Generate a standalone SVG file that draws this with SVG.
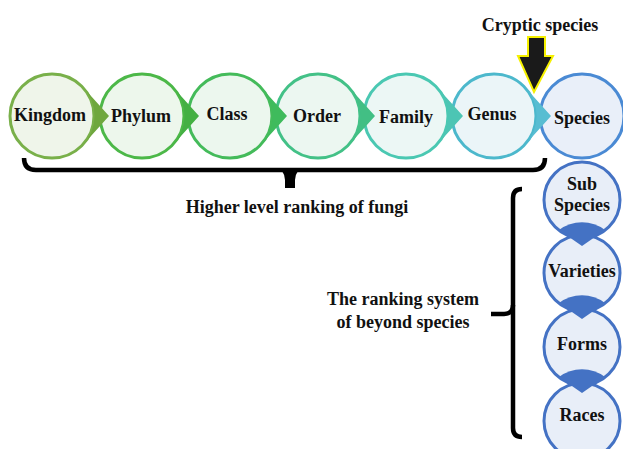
<svg xmlns="http://www.w3.org/2000/svg" width="623" height="449" viewBox="0 0 623 449">
<style>
text{font-family:'Liberation Serif','DejaVu Serif',serif;font-weight:700;font-size:18px;fill:#111;text-anchor:middle}
.c{stroke-width:3}
.brace{fill:none;stroke:#000;stroke-width:4.5;stroke-linecap:butt}
</style>
<rect width="623" height="449" fill="#fff"/>
<g id="species">
<circle class="c" cx="582" cy="116" r="42" fill="#e9eff9" stroke="#4a8ad4"/>
<text x="582" y="124">Species</text>
</g>
<g id="genus">
<circle class="c" cx="494" cy="116" r="42" fill="#ebf5f8" stroke="#4cb8cc"/>
<path d="M524,86 L551,116 L524,146 A42,42 0 0 0 524,86 Z" fill="#58bdd2"/>
<text x="492" y="120">Genus</text>
</g>
<g id="family">
<circle class="c" cx="406" cy="116" r="42" fill="#ecf7f5" stroke="#4ac8b2"/>
<path d="M436,86 L463,116 L436,146 A42,42 0 0 0 436,86 Z" fill="#4cc5b4"/>
<text x="406" y="123">Family</text>
</g>
<g id="order">
<circle class="c" cx="318" cy="116" r="42" fill="#ecf7f1" stroke="#43c187"/>
<path d="M348,86 L375,116 L348,146 A42,42 0 0 0 348,86 Z" fill="#42bf84"/>
<text x="317" y="122">Order</text>
</g>
<g id="class">
<circle class="c" cx="230" cy="116" r="42" fill="#ecf7ee" stroke="#44bb5a"/>
<path d="M260,86 L287,116 L260,146 A42,42 0 0 0 260,86 Z" fill="#3fbb5c"/>
<text x="227" y="120">Class</text>
</g>
<g id="phylum">
<circle class="c" cx="142" cy="116" r="42" fill="#edf7ec" stroke="#4cb848"/>
<path d="M172,86 L199,116 L172,146 A42,42 0 0 0 172,86 Z" fill="#44b043"/>
<text x="141" y="122">Phylum</text>
</g>
<g id="kingdom">
<circle class="c" cx="52" cy="116" r="42" fill="#eff5ea" stroke="#79b04a"/>
<path d="M82,86 L109,116 L82,146 A42,42 0 0 0 82,86 Z" fill="#6fa73e"/>
<text x="50" y="121">Kingdom</text>
</g>
<g id="races">
<circle class="c" cx="582" cy="421" r="38" fill="#e8eef8" stroke="#4472c4"/>
<text x="582" y="421">Races</text>
</g>
<g id="forms">
<circle class="c" cx="582" cy="347" r="38" fill="#e8eef8" stroke="#4472c4"/>
<path d="M559,377 L582,393 L605,377 A38,38 0 0 0 559,377 Z" fill="#4472c4"/>
<text x="582" y="350">Forms</text>
</g>
<g id="varieties">
<circle class="c" cx="582" cy="273" r="38" fill="#e8eef8" stroke="#4472c4"/>
<path d="M559,303 L582,319 L605,303 A38,38 0 0 0 559,303 Z" fill="#4472c4"/>
<text x="582" y="277">Varieties</text>
</g>
<g id="subspecies">
<circle class="c" cx="582" cy="200" r="38" fill="#e8eef8" stroke="#4472c4"/>
<path d="M559,230 L582,246 L605,230 A38,38 0 0 0 559,230 Z" fill="#4472c4"/>
<text x="582" y="190">Sub</text>
<text x="582" y="211">Species</text>
</g>
<g id="connectors">
<g id="cryptic-arrow">
<polygon points="528,37 545,37 545,56 553,56 534,92 518,56 528,56" fill="#1a1a1a" stroke="#f5f000" stroke-width="2" stroke-linejoin="miter"/>
</g>
<g id="higher-brace">
<path class="brace" d="M24,158 Q24,170 36,170 L533,170 Q545,170 545,158"/>
<path d="M282,171 L298,171 Q295,175 295,180 L295,188 L285,188 L285,180 Q285,175 282,171 Z" fill="#000"/>
</g>
<g id="beyond-brace">
<path class="brace" d="M522,189 Q513,189 513,198 L513,428 Q513,437 522,437"/>
<path class="brace" d="M513,305 Q513,314 504,314 L491,314"/>
</g>
</g>
<text x="540" y="31">Cryptic species</text>
<text x="297" y="213">Higher level ranking of fungi</text>
<text x="403" y="305">The ranking system</text>
<text x="403" y="328">of beyond species</text>
</svg>
